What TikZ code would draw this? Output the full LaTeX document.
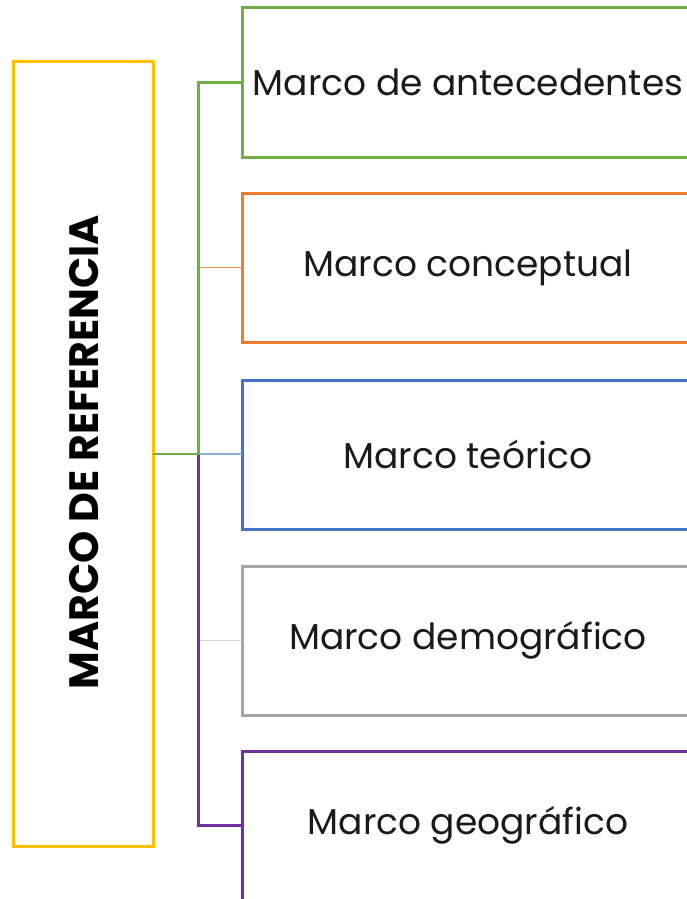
\documentclass[tikz,border=0pt]{standalone}
\usepackage{fontspec}
\setmainfont{Poppins}
\definecolor{cyellow}{HTML}{FFC000}
\definecolor{cgreen}{HTML}{70AD47}
\definecolor{corange}{HTML}{ED7D31}
\definecolor{cblue}{HTML}{4472C4}
\definecolor{cgray}{HTML}{A5A5A5}
\definecolor{cpurple}{HTML}{7030A0}
\definecolor{ctext}{HTML}{1A1A1A}
\definecolor{ctwigorange}{HTML}{F08A4B}
\definecolor{ctwigblue}{HTML}{8FAADC}
\definecolor{ctwiggray}{HTML}{D0D0D0}
\tikzset{
  child/.style={draw=#1, line width=3pt, minimum width=452pt, minimum height=149pt,
    anchor=north west, inner sep=0pt, outer sep=0pt, text=ctext, font=\fontsize{36}{36}\selectfont},
  trunk/.style={draw=#1, line width=2.8pt},
  twig/.style={draw=#1, line width=1.8pt},
}
\begin{document}
\begin{tikzpicture}[x=1pt,y=-1pt]
\useasboundingbox (0,0) rectangle (687,899);
\clip (0,0) rectangle (687,899);
\node[draw=cyellow, line width=3pt, minimum width=140pt, minimum height=784pt, anchor=north west, inner sep=0pt, outer sep=0pt] (main) at (13,62) {};
\node[rotate=90, text=black, font=\bfseries\fontsize{41}{41}\selectfont] (title) at (84,452) {MARCO DE REFERENCIA};
\node[child=cgreen] (b1) at (242,8) {Marco de antecedentes};
\node[child=corange] (b2) at (242,193) {Marco conceptual};
\node[child=cblue] (b3) at (242,380) {Marco teórico};
\node[child=cgray] (b4) at (242,566) {Marco demográfico};
\node[child=cpurple] (b5) at (242,751) {Marco geográfico};
\coordinate (t) at (198.5,454);
\draw[twig=ctwigorange] (t |- b2.west) -- (b2.west);
\draw[twig=ctwigblue] (t) -- (t -| b3.west);
\draw[twig=ctwiggray] (t |- b4.west) -- (b4.west);
\draw[trunk=cpurple] (t) |- (b5.west);
\draw[trunk=cgreen] (main.east) -- (t) |- (b1.west);
\end{tikzpicture}
\end{document}
